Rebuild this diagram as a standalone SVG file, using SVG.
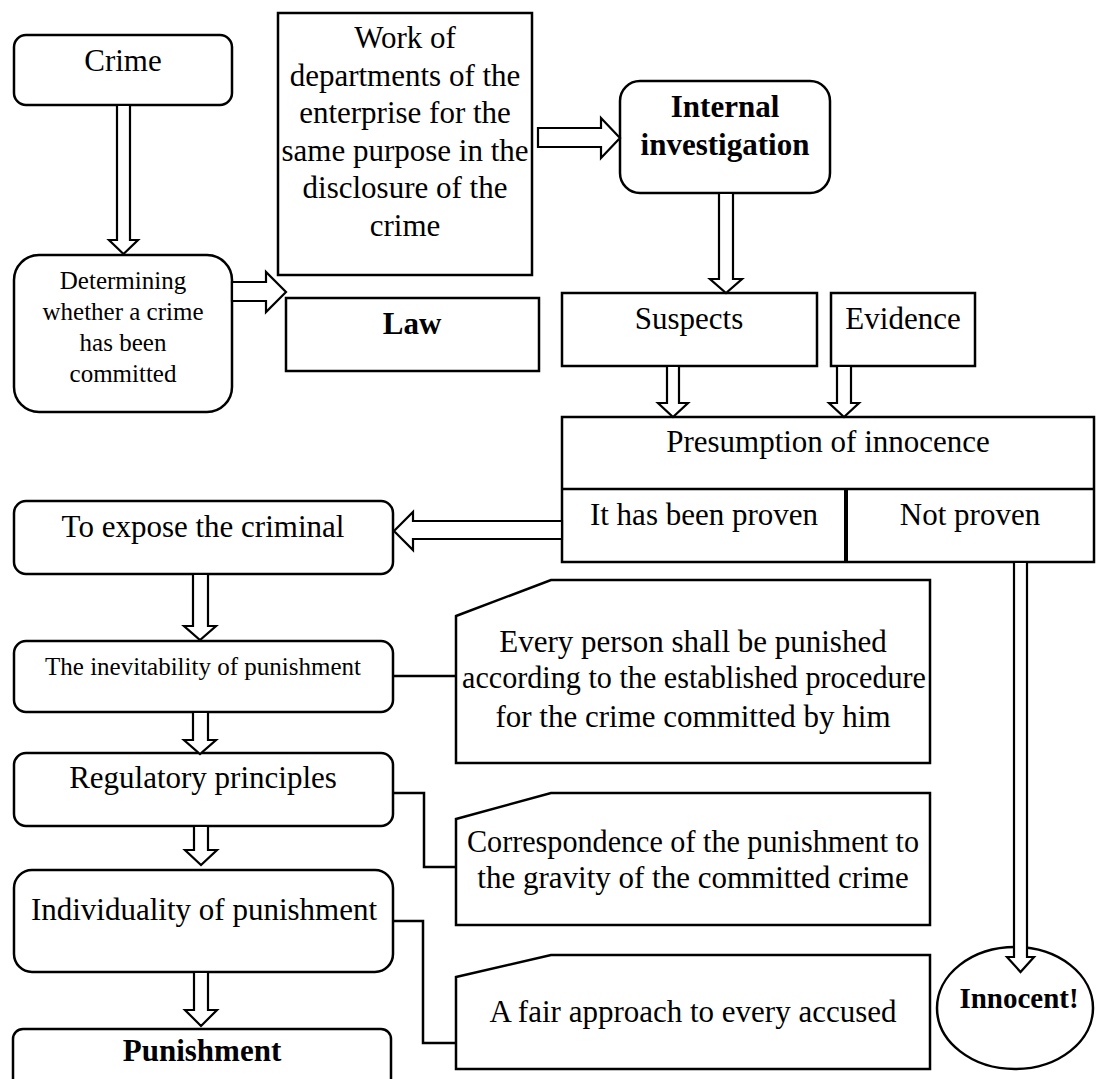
<svg xmlns="http://www.w3.org/2000/svg" width="1096" height="1079" viewBox="0 0 1096 1079">
<style>
.b{fill:#fff;stroke:#000;stroke-width:2.5}
.ar{fill:#fff;stroke:#000;stroke-width:2.2;stroke-linejoin:miter}
.ln{fill:none;stroke:#000;stroke-width:2.5}
text{font-family:"Liberation Serif","Times New Roman",serif;font-size:31px;text-anchor:middle;fill:#000}
.s25{font-size:25px}
.bd{font-weight:bold}
</style>
<rect width="1096" height="1079" fill="#fff"/>
<g id="crime"><rect class="b" x="14" y="35" width="218" height="70" rx="12"/><text x="123" y="71">Crime</text></g>
<g id="work"><rect class="b" x="278" y="13" width="254" height="262"/>
<text x="405" y="48">Work of</text><text x="405" y="86">departments of the</text><text x="405" y="123">enterprise for the</text><text x="405" y="161">same purpose in the</text><text x="405" y="198">disclosure of the</text><text x="405" y="236">crime</text></g>
<g id="internal"><rect class="b" x="620" y="81" width="210" height="112" rx="20"/><text class="bd" x="725" y="117">Internal</text><text class="bd" x="725" y="155">investigation</text></g>
<g id="determining"><rect class="b" x="14" y="255" width="218" height="157" rx="25"/>
<text class="s25" x="123" y="289">Determining</text><text class="s25" x="123" y="320">whether a crime</text><text class="s25" x="123" y="351">has been</text><text class="s25" x="123" y="382">committed</text></g>
<g id="law"><rect class="b" x="286" y="298" width="253" height="73"/><text class="bd" x="412" y="334">Law</text></g>
<g id="suspects"><rect class="b" x="562" y="293" width="255" height="73"/><text x="689" y="329">Suspects</text></g>
<g id="evidence"><rect class="b" x="831" y="293" width="144" height="73"/><text x="903" y="329">Evidence</text></g>
<g id="presumption"><rect class="b" x="562" y="417" width="532" height="145"/><path class="ln" d="M562 489 H1094"/><path d="M846 489 V562" stroke="#000" stroke-width="4"/>
<text x="828" y="452">Presumption of innocence</text><text x="704" y="525">It has been proven</text><text x="970" y="525">Not proven</text></g>
<g id="expose"><rect class="b" x="14" y="501" width="379" height="73" rx="12"/><text x="203" y="537">To expose the criminal</text></g>
<g id="inevitability"><rect class="b" x="14" y="641" width="379" height="71" rx="12"/><text class="s25" x="203" y="675">The inevitability of punishment</text></g>
<g id="regulatory"><rect class="b" x="14" y="753" width="379" height="73" rx="12"/><text x="203" y="788">Regulatory principles</text></g>
<g id="individuality"><rect class="b" x="14" y="870" width="379" height="102" rx="18"/><text x="204" y="920">Individuality of punishment</text></g>
<g id="punishment"><rect class="b" x="13" y="1029" width="378" height="70" rx="10"/><text class="bd" x="202" y="1061">Punishment</text></g>
<g id="card1"><path class="b" d="M456 616 L551 580 H930 V763 H456 Z"/>
<text x="693" y="652">Every person shall be punished</text><text x="694" y="688" textLength="464" lengthAdjust="spacingAndGlyphs">according to the established procedure</text><text x="693" y="727">for the crime committed by him</text></g>
<g id="card2"><path class="b" d="M456 819 L551 793 H930 V925 H456 Z"/>
<text x="693" y="852" textLength="452" lengthAdjust="spacingAndGlyphs">Correspondence of the punishment to</text><text x="693" y="888">the gravity of the committed crime</text></g>
<g id="card3"><path class="b" d="M456 977 L551 955 H930 V1069 H456 Z"/><text x="693" y="1022">A fair approach to every accused</text></g>
<g id="innocent"><ellipse class="b" cx="1015" cy="1008" rx="78" ry="61"/><text class="bd" x="1019" y="1008" style="font-size:29px">Innocent!</text></g>
<g id="connectors">
<path class="ar" d="M117 105 V240 H109 L123.5 254 L138 240 H130 V105 Z"/>
<path class="ar" d="M232 282 H266 V272 L286 292 L266 312 V301 H232 Z"/>
<path class="ar" d="M538 128 H601 V118 L620 138 L601 158 V147 H538 Z"/>
<path class="ar" d="M719 193 V279 H710 L726 293 L742 279 H733 V193 Z"/>
<path class="ar" d="M667 366 V403 H658 L673 417 L688 403 H679 V366 Z"/>
<path class="ar" d="M837 366 V403 H829 L844 417 L859 403 H851 V366 Z"/>
<path class="ar" d="M562 521 H413 V512 L394 531 L413 550 V539 H562 Z"/>
<path class="ar" d="M1014 562 V957 H1007 L1020.5 972 L1034 957 H1027 V562 Z"/>
<path class="ar" d="M193 574 V626 H184 L200 640 L216 626 H208 V574 Z"/>
<path class="ar" d="M193 712 V740 H184 L200 754 L216 740 H208 V712 Z"/>
<path class="ar" d="M194 826 V850 H185 L201 865 L217 850 H208 V826 Z"/>
<path class="ar" d="M194 972 V1010 H185 L201 1026 L217 1010 H208 V972 Z"/>
<path class="ln" d="M393 676 H456"/>
<path class="ln" d="M393 793 H424 V867 H456"/>
<path class="ln" d="M393 921 H423 V1043 H456"/>
</g>
</svg>
